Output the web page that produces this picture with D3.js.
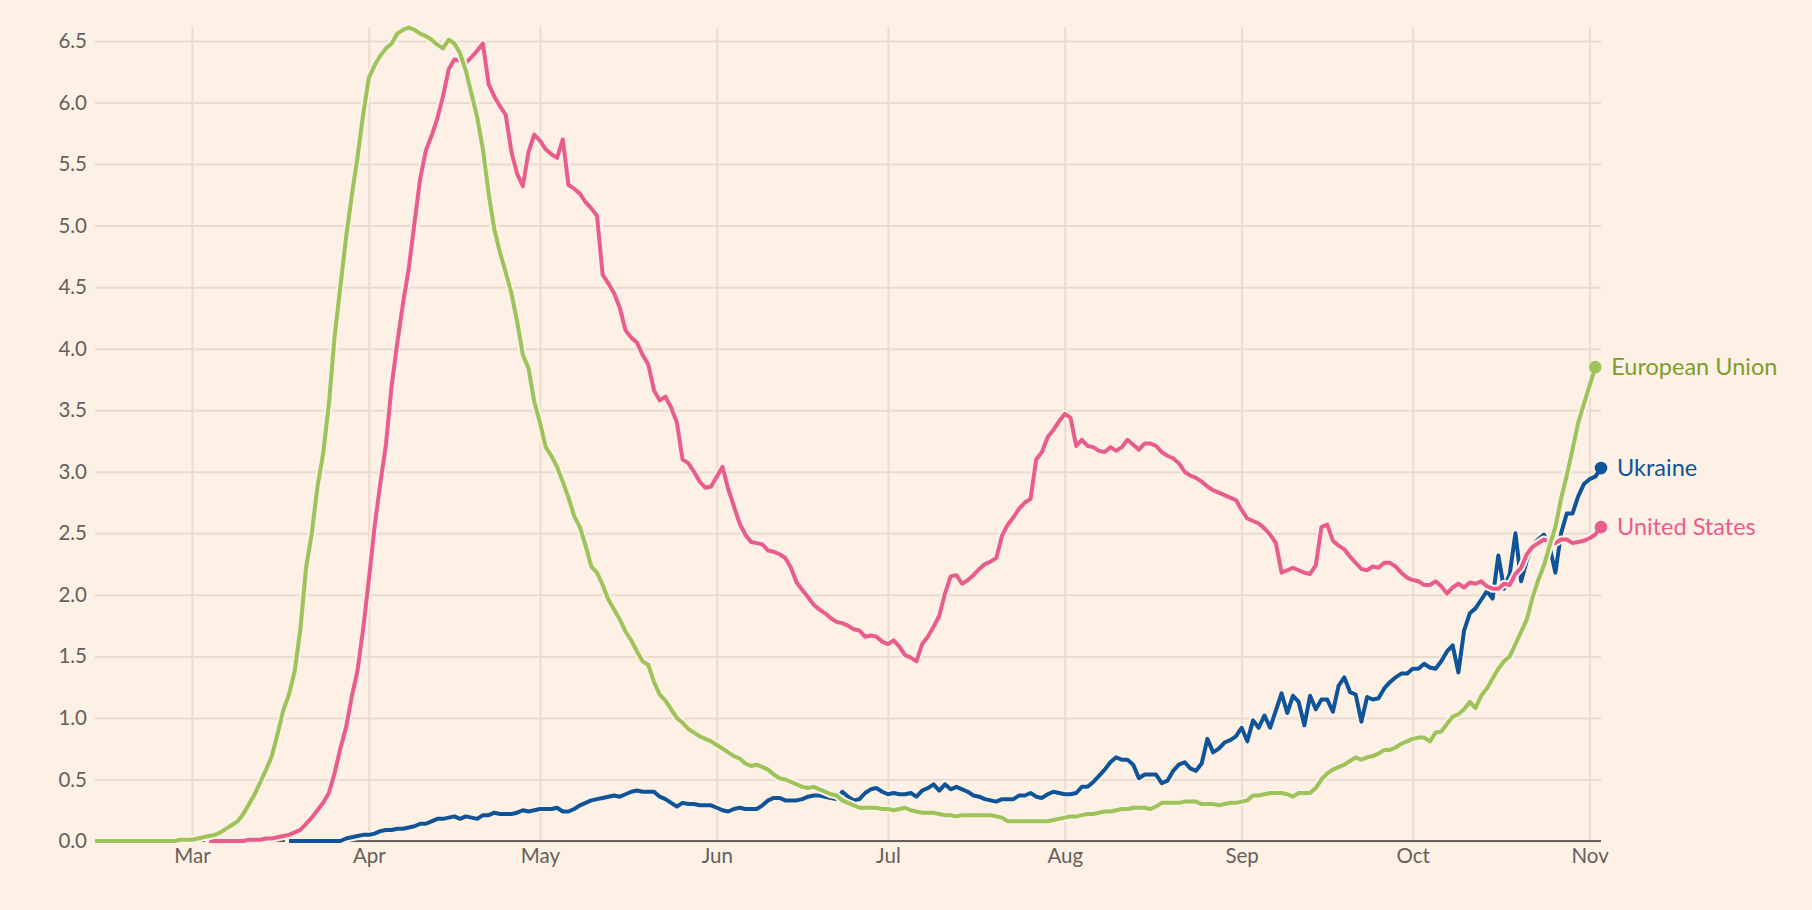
<!DOCTYPE html>
<html><head><meta charset="utf-8">
<script src="https://cdn.jsdelivr.net/npm/d3@7"></script>
<style>
html,body{margin:0;padding:0;background:#fdf0e5;}
svg{display:block;}
text{font-family:Lato,"Open Sans",sans-serif;}
</style></head><body>
<svg id="chart" width="1812" height="910"></svg>
<script>
// ---- DATA (daily values, deaths per million, 7-day average) ----
const euStart = "2020-02-13";
const euValues = [
 0,0,0,0,0,0,0,0,0,0,
 0,0,0,0,0,0.01,0.01,
 0.01,0.02,0.03,0.04,0.05,0.07,0.10,0.13,0.16,0.22,
 0.30,0.38,0.48,0.58,0.69,0.87,1.06,1.19,1.38,1.72,
 2.22,2.50,2.88,3.15,3.55,4.10,4.50,4.90,5.24,5.55,
 5.90,6.20,6.30,6.38,6.44,6.48,6.56,6.59,6.61,6.59,
 6.56,6.54,6.51,6.47,6.44,6.51,6.48,6.40,6.26,6.07,
 5.88,5.62,5.26,4.97,4.78,4.62,4.45,4.22,3.95,3.84,
 3.57,3.40,3.20,3.13,3.04,2.92,2.79,2.64,2.55,2.40,
 2.23,2.18,2.08,1.96,1.88,1.80,1.70,1.63,1.54,1.46,
 1.43,1.29,1.19,1.14,1.07,1.00,0.96,0.91,0.88,0.85,
 0.83,0.81,0.78,0.75,0.72,0.69,0.67,0.63,0.61,0.62,
 0.60,0.58,0.54,0.51,0.50,0.48,0.46,0.44,0.43,0.44,
 0.42,0.40,0.38,0.37,0.33,0.31,0.29,0.27,0.27,0.27,
 0.27,0.26,0.26,0.25,0.26,0.27,0.25,0.24,0.23,0.23,
 0.23,0.22,0.21,0.21,0.20,0.21,0.21,0.21,0.21,0.21,
 0.21,0.20,0.19,0.16,0.16,0.16,0.16,0.16,0.16,0.16,
 0.16,0.17,0.18,0.19,0.20,0.20,0.21,0.22,0.22,0.23,
 0.24,0.24,0.25,0.26,0.26,0.27,0.27,0.27,0.26,0.28,
 0.31,0.31,0.31,0.31,0.32,0.32,0.32,0.30,0.30,0.30,
 0.29,0.30,0.31,0.31,0.32,0.33,0.37,0.37,0.38,0.39,
 0.39,0.39,0.38,0.36,0.39,0.39,0.39,0.43,0.50,0.55,
 0.58,0.60,0.62,0.65,0.68,0.66,0.68,0.69,0.71,0.74,
 0.74,0.76,0.79,0.81,0.83,0.84,0.84,0.81,0.88,0.89,
 0.95,1.01,1.03,1.07,1.13,1.08,1.18,1.24,1.32,1.40,
 1.46,1.50,1.60,1.70,1.80,1.98,2.12,2.24,2.40,2.55,
 2.78,2.97,3.18,3.40,3.55,3.70,3.85
];
const usStart = "2020-03-04";
const usValues = [
 0,0,0,0,0,0,0,
 0.01,0.01,0.01,0.02,0.02,0.03,0.04,0.05,0.07,0.09,
 0.14,0.19,0.25,0.31,0.39,0.55,0.75,0.92,1.17,1.38,
 1.72,2.12,2.55,2.90,3.22,3.70,4.05,4.37,4.65,5.02,
 5.38,5.61,5.73,5.87,6.05,6.27,6.35,6.34,6.32,6.37,
 6.42,6.48,6.15,6.05,5.97,5.90,5.60,5.42,5.32,5.60,
 5.74,5.69,5.62,5.58,5.55,5.70,5.33,5.30,5.26,5.19,
 5.14,5.08,4.60,4.53,4.45,4.33,4.15,4.09,4.05,3.95,
 3.87,3.66,3.58,3.61,3.52,3.40,3.10,3.07,3.00,2.92,
 2.87,2.88,2.96,3.04,2.86,2.72,2.58,2.49,2.43,2.42,
 2.41,2.36,2.35,2.33,2.30,2.22,2.10,2.04,1.98,1.92,
 1.88,1.85,1.81,1.78,1.77,1.75,1.72,1.71,1.66,1.67,
 1.66,1.62,1.60,1.63,1.58,1.51,1.49,1.46,1.60,1.66,
 1.74,1.83,2.01,2.15,2.16,2.09,2.12,2.16,2.21,2.25,
 2.27,2.30,2.48,2.57,2.63,2.70,2.75,2.78,3.10,3.16,
 3.28,3.34,3.41,3.47,3.44,3.21,3.26,3.21,3.20,3.17,
 3.16,3.20,3.17,3.20,3.26,3.22,3.18,3.23,3.23,3.21,
 3.16,3.13,3.11,3.07,3.00,2.97,2.95,2.92,2.88,2.85,
 2.83,2.81,2.79,2.77,2.69,2.62,2.60,2.58,2.54,2.49,
 2.42,2.18,2.20,2.22,2.20,2.18,2.17,2.24,2.55,2.57,
 2.44,2.40,2.37,2.31,2.26,2.21,2.20,2.23,2.22,2.26,
 2.26,2.23,2.18,2.14,2.12,2.11,2.08,2.08,2.11,2.07,
 2.01,2.06,2.09,2.06,2.10,2.09,2.11,2.07,2.05,2.05,
 2.09,2.08,2.17,2.22,2.33,2.39,2.42,2.45,2.43,2.42,
 2.45,2.45,2.42,2.43,2.44,2.46,2.49,2.55
];
const uaStart = "2020-03-18";
const uaValues = [
 0,0,0,
 0,0,0,0,0,0,0,0.02,0.03,0.04,
 0.05,0.05,0.06,0.08,0.09,0.09,0.10,0.10,0.11,0.12,
 0.14,0.14,0.16,0.18,0.18,0.19,0.20,0.18,0.20,0.19,
 0.18,0.21,0.21,0.23,0.22,0.22,0.22,0.23,0.25,0.24,
 0.25,0.26,0.26,0.26,0.27,0.24,0.24,0.26,0.29,0.31,
 0.33,0.34,0.35,0.36,0.37,0.36,0.38,0.40,0.41,0.40,
 0.40,0.40,0.36,0.34,0.31,0.28,0.31,0.30,0.30,0.29,
 0.29,0.29,0.27,0.25,0.24,0.26,0.27,0.26,0.26,0.26,
 0.29,0.33,0.35,0.35,0.33,0.33,0.33,0.34,0.36,0.37,
 0.37,0.36,0.35,0.34,0.40,0.36,0.33,0.34,0.39,0.42,
 0.43,0.40,0.38,0.39,0.38,0.38,0.39,0.36,0.41,0.43,
 0.46,0.41,0.46,0.42,0.44,0.42,0.40,0.37,0.36,0.34,
 0.33,0.32,0.34,0.34,0.34,0.37,0.37,0.39,0.36,0.35,
 0.38,0.40,0.39,0.38,0.38,0.39,0.44,0.44,0.48,0.53,
 0.58,0.64,0.68,0.66,0.66,0.62,0.51,0.54,0.54,0.54,
 0.47,0.49,0.57,0.62,0.64,0.59,0.57,0.63,0.83,0.72,
 0.75,0.80,0.82,0.85,0.92,0.81,0.98,0.92,1.02,0.92,
 1.06,1.20,1.04,1.18,1.13,0.94,1.18,1.07,1.15,1.15,
 1.05,1.26,1.33,1.21,1.19,0.97,1.17,1.15,1.16,1.24,
 1.29,1.33,1.36,1.36,1.40,1.40,1.44,1.41,1.40,1.46,
 1.54,1.59,1.37,1.71,1.85,1.89,1.96,2.03,1.97,2.32,
 2.05,2.17,2.50,2.11,2.28,2.40,2.45,2.49,2.39,2.18,
 2.50,2.66,2.66,2.80,2.90,2.94,2.96,3.03
];
const seriesNames = ["Ukraine", "United States", "European Union"];
const seriesColors = ["#0f5499", "#e95d8c", "#9dc35a"];
const labelColors = ["#0f5499", "#e95d8c", "#7f9c2e"];
const yTicks = [0,0.5,1,1.5,2,2.5,3,3.5,4,4.5,5,5.5,6,6.5];
const xTickDates = ["2020-03-01","2020-04-01","2020-05-01","2020-06-01","2020-07-01","2020-08-01","2020-09-01","2020-10-01","2020-11-01"];
const domainStart = "2020-02-13", domainEnd = "2020-11-03";

// ---- CHART ----
const bg = "#fdf0e5";
const svg = d3.select("#chart");
svg.append("rect").attr("width",1812).attr("height",910).attr("fill",bg);

const parse = s => new Date(s + "T00:00:00Z");
const x = d3.scaleUtc().domain([parse(domainStart), parse(domainEnd)]).range([95, 1601]);
const y = d3.scaleLinear().domain([0, 6.5]).range([841, 41]);

function build(start, vals){
  const s = parse(start);
  return vals.map((v,i)=>({date:d3.utcDay.offset(s,i), value:v}));
}
const series = [build(uaStart, uaValues), build(usStart, usValues), build(euStart, euValues)];

const gridColor = "#e8dbcf";
// horizontal grid + y labels
const yAxis = d3.axisLeft(y).tickValues(yTicks).tickFormat(d3.format(".1f")).tickSize(-(1601-95)).tickPadding(8);
const gy = svg.append("g").attr("transform","translate(95,0)").call(yAxis);
gy.select(".domain").remove();
gy.selectAll(".tick line").attr("stroke",gridColor).attr("stroke-width",2);
gy.selectAll(".tick text").attr("fill","#66605c").attr("font-size",20.5).attr("x",-8);

// vertical grid + x labels
const xAxis = d3.axisBottom(x).tickValues(xTickDates.map(parse)).tickFormat(d3.utcFormat("%b")).tickSize(-(841-27)).tickPadding(10);
const gx = svg.append("g").attr("transform","translate(0,841)").call(xAxis);
gx.select(".domain").remove();
gx.selectAll(".tick line").attr("stroke",gridColor).attr("stroke-width",2);
gx.selectAll(".tick text").attr("fill","#66605c").attr("font-size",20.5).attr("y",7).attr("dy","0.71em");

// baseline
svg.append("line").attr("x1",95).attr("x2",1601).attr("y1",y(0)).attr("y2",y(0))
  .attr("stroke","#66605c").attr("stroke-width",2);

const line = d3.line().x(d=>x(d.date)).y(d=>y(d.value));
series.forEach((s,i)=>{
  svg.append("path").datum(s).attr("d",line).attr("fill","none")
    .attr("stroke",bg).attr("stroke-width",8).attr("stroke-linejoin","round").attr("stroke-linecap","round");
  svg.append("path").datum(s).attr("d",line).attr("fill","none")
    .attr("stroke",seriesColors[i]).attr("stroke-width",4).attr("stroke-linejoin","round");
});
series.forEach((s,i)=>{
  const last = s[s.length-1];
  const cx = x(last.date), cy = y(last.value);
  svg.append("circle").attr("cx",cx).attr("cy",cy).attr("r",6.3).attr("fill",seriesColors[i]);
  svg.append("text").attr("x",cx+16).attr("y",cy).attr("dy","0.35em")
    .attr("fill",labelColors[i]).attr("font-size",23.5).text(seriesNames[i]);
});
</script>
</body></html>
